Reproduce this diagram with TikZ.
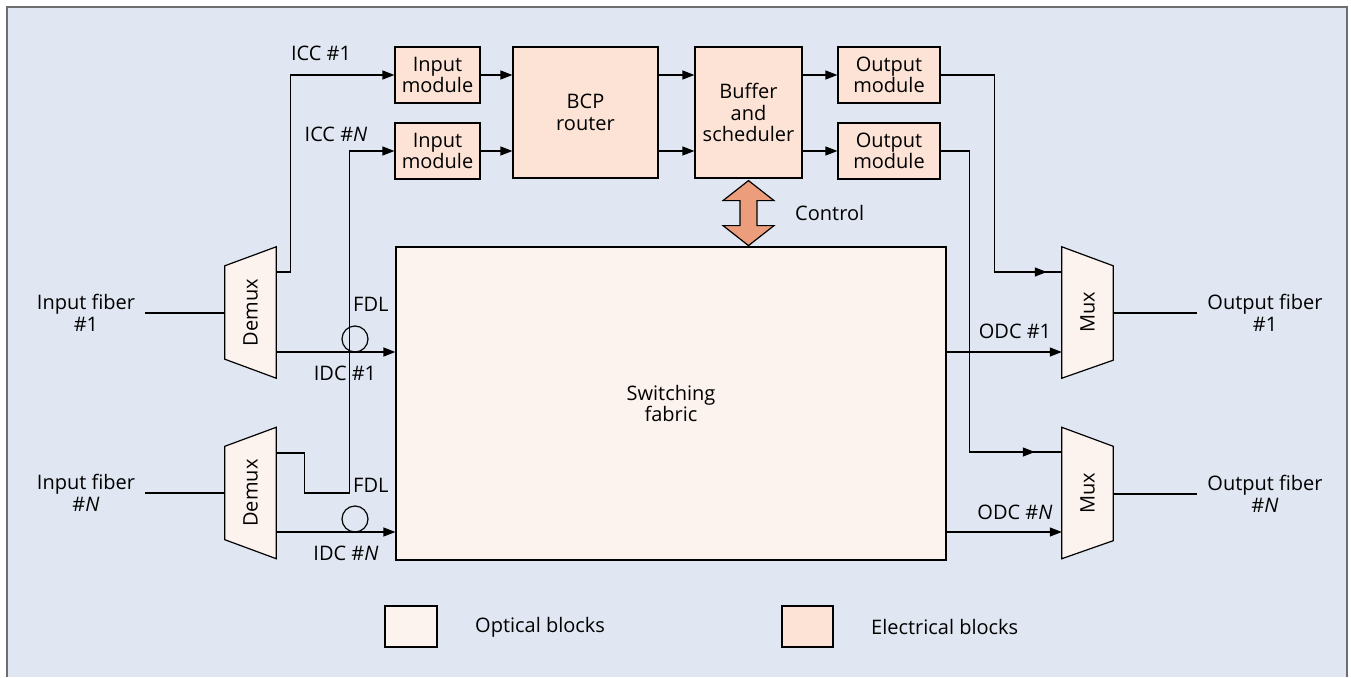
\documentclass[tikz,border=0pt]{standalone}
\usepackage{fontspec}
\setmainfont{Open Sans}
\usepackage{tikz}
\usetikzlibrary{arrows.meta, positioning, decorations.markings}
\definecolor{panelBg}{RGB}{224,231,242}
\definecolor{frameGray}{RGB}{110,110,112}
\definecolor{optFill}{RGB}{253,243,238}
\definecolor{elecFill}{RGB}{252,227,214}
\definecolor{ctrlFill}{RGB}{236,158,124}

\begin{document}
\begin{tikzpicture}[
  x=1pt, y=-1pt,
  font=\fontsize{20}{21.5}\selectfont,
  elec/.style={rectangle, draw, line width=1.2pt, fill=elecFill, align=center, inner sep=0pt},
  optic/.style={rectangle, draw, line width=1.2pt, fill=optFill, align=center, inner sep=0pt},
  trapbox/.style={rectangle, minimum width=51pt, minimum height=131pt, inner sep=0pt},
  label/.style={align=center, inner sep=0pt},
  fiber/.style={align=center, inner xsep=10pt, inner ysep=0pt},
  arrow/.style={-{Triangle[length=12pt,width=9pt]}, line width=1.2pt},
  line/.style={line width=1.2pt},
  midarr/.style={line width=1.2pt, postaction={decorate},
    decoration={markings, mark=at position #1 with {\arrow{Triangle[length=12pt,width=9pt]}}}}
]
\useasboundingbox (0,0) rectangle (1351,677);
% Panel
\fill[panelBg] (7,7) rectangle (1347,677);
\draw[frameGray, line width=2pt] (7,677) -- (7,7) -- (1347,7) -- (1347,677);

% Electrical blocks
\node[elec, minimum width=85pt, minimum height=56pt] (im1) at (437.5,75) {Input\\module};
\node[elec, minimum width=85pt, minimum height=56pt] (im2) at (437.5,151) {Input\\module};
\node[elec, minimum width=145pt, minimum height=131pt] (bcp) at (585.5,112.5) {BCP\\router};
\node[elec, minimum width=107pt, minimum height=131pt] (buf) at (748.5,112.5) {Buffer\\and\\scheduler};
\node[elec, minimum width=102pt, minimum height=56pt] (om1) at (889,75) {Output\\module};
\node[elec, minimum width=102pt, minimum height=56pt] (om2) at (889,151) {Output\\module};

\draw[arrow] (im1) -- (bcp.west |- im1);
\draw[arrow] (im2) -- (bcp.west |- im2);
\draw[arrow] (bcp.east |- im1) -- (buf.west |- im1);
\draw[arrow] (bcp.east |- im2) -- (buf.west |- im2);
\draw[arrow] (buf.east |- om1) -- (om1);
\draw[arrow] (buf.east |- om2) -- (om2);

% Switching fabric
\node[optic, minimum width=550pt, minimum height=313pt] (fab) at (671,403.5) {Switching\\fabric};

% Control
\draw[line width=1.2pt, fill=ctrlFill] ([yshift=-2pt]buf.south) -- ++(25.5,20) -- ++(-17,0) -- ++(0,25)
  -- ++(17,0) -- ++(-25.5,20) -- ++(-25.5,-20) -- ++(17,0) -- ++(0,-25) -- ++(-17,0) -- cycle;
\node[label, anchor=west] (ctrl) at (795,213) {Control};

% Demux
\node[trapbox] (dmx1) at (250.5,312.5) {};
\node[trapbox] (dmx2) at (250.5,493) {};
\foreach \d in {dmx1,dmx2} {
  \draw[line, fill=optFill] ([yshift=-19pt]\d.north west) -- (\d.north east) -- (\d.south east)
    -- ([yshift=19pt]\d.south west) -- cycle;
  \node[rotate=90] at (\d) {Demux};
}

% Mux
\node[trapbox] (mux1) at (1087.5,312.5) {};
\node[trapbox] (mux2) at (1087.5,493) {};
\foreach \m in {mux1,mux2} {
  \draw[line, fill=optFill] (\m.north west) -- ([yshift=-19pt]\m.north east) -- ([yshift=18pt]\m.south east)
    -- (\m.south west) -- cycle;
  \node[rotate=90] at (\m) {Mux};
}

% Fibers
\node[fiber] (fin1) at (86,313) {Input fiber\\\#1};
\node[fiber] (finN) at (86,493) {Input fiber\\\#\textit{N}};
\node[fiber] (fout1) at (1265,313) {Output fiber\\\#1};
\node[fiber] (foutN) at (1265,494) {Output fiber\\\#\textit{N}};
\draw[line] (fin1.east) -- (fin1.east -| dmx1.west);
\draw[line] (finN.east) -- (finN.east -| dmx2.west);
\draw[line] (mux1.east |- fout1.west) -- (fout1.west);
\draw[line] (mux2.east |- foutN.west) -- (foutN.west);

% FDL
\node[circle, draw, line width=1.2pt, minimum size=26pt, inner sep=0pt] (fdl1) at (355,339) {};
\node[circle, draw, line width=1.2pt, minimum size=26pt, inner sep=0pt] (fdl2) at (355,519) {};
\node[label, anchor=west] (fdlt1) at (353,304) {FDL};
\node[label, anchor=west] (fdlt2) at (353,485) {FDL};

% Control channels
\draw[arrow] ([yshift=40.5pt]dmx1.east) -- ++(14,0) |- (im1.west);
\draw[arrow] ([yshift=40pt]dmx2.east) -- ++(28,0) -- ++(0,40) -- ++(45,0) |- (im2.west);
\node[label] (icc1) at (321,53) {ICC \#1};
\node[label] (iccN) at (336,134) {ICC \#\textit{N}};

% Data channels
\draw[arrow] ([yshift=-39.5pt]dmx1.east) coordinate (d1) -- (d1 -| fab.west);
\draw[arrow] ([yshift=-39pt]dmx2.east) coordinate (dN) -- (dN -| fab.west);
\node[label] (idc1) at (345,373) {IDC \#1};
\node[label] (idcN) at (346,553) {IDC \#\textit{N}};
\draw[arrow] (fab.east |- d1) -- (mux1.west |- d1);
\draw[arrow] (fab.east |- dN) -- (mux2.west |- dN);
\node[label] (odc1) at (1015,331) {ODC \#1};
\node[label] (odcN) at (1015,512) {ODC \#\textit{N}};

% Output modules to mux
\draw[midarr=-15pt] (om1.east) -- ++(54,0) |- ([yshift=40.5pt]mux1.west);
\draw[midarr=-27pt] (om2.east) -- ++(29,0) |- ([yshift=41pt]mux2.west);

% Legend
\node[optic, minimum width=52pt, minimum height=41pt] (lgopt) at (411,626.5) {};
\node[label, anchor=west] (lgoptt) at (475,627) {Optical blocks};
\node[elec, minimum width=51pt, minimum height=41pt] (lgele) at (807.5,626.5) {};
\node[label, anchor=west] (lgelet) at (871,627) {Electrical blocks};

\end{tikzpicture}
\end{document}
